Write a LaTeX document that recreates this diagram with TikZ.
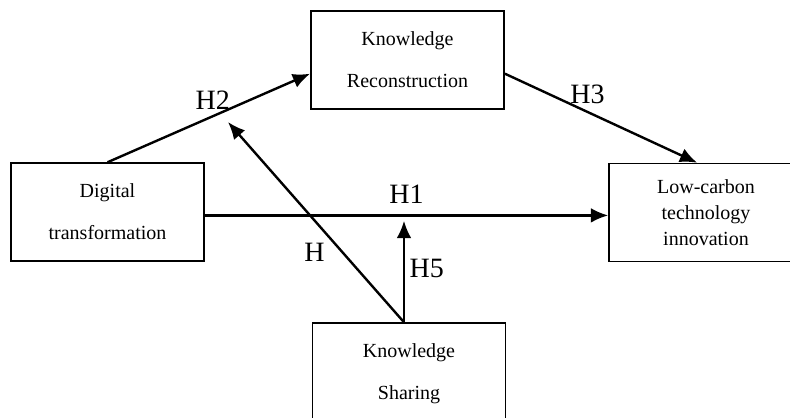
\documentclass[tikz,border=0pt]{standalone}
\usepackage{fontspec}
\setmainfont{Liberation Serif}
\usetikzlibrary{calc,arrows.meta}
\tikzset{>={Latex[width=11pt,length=13pt]}}

\begin{document}
\begin{tikzpicture}[x=0.75pt,y=-0.75pt,
    box/.style={draw,line width=1.1pt,minimum width=145pt,minimum height=73.5pt,inner sep=0pt,align=center,font=\fontsize{15}{31.5}\selectfont,execute at begin node=\rule{0pt}{16pt}},
    lbl/.style={font=\fontsize{21}{21}\selectfont,inner sep=0pt}]
    \useasboundingbox (0,0) rectangle (790,418);
    \clip (0,0) rectangle (790,418);
    \node[box] (digital) at (107.5,212) {Digital\\transformation};
    \node[box] (recon) at (407.5,60) {Knowledge\\Reconstruction};
    \node[box,minimum width=145.5pt,font=\fontsize{15}{19.5}\selectfont] (lowcarbon) at (706,212.5) {Low-carbon\\technology\\innovation};
    \node[box,minimum height=76.5pt] (sharing) at (409,374) {Knowledge\\Sharing};
    \coordinate (src) at ($(sharing.north)+(-5,0)$);
    \coordinate (tip) at (228,122);

    \path[->, line width=1.8pt]
    (digital.north) edge node[lbl, pos=0.52, yshift=12pt] {H2} (recon.188)
    (recon.-8)      edge node[lbl, pos=0.43, yshift=13pt] {H3} (lowcarbon.100)
    (digital.-2)    edge node[lbl, pos=0.5, yshift=16pt] {H1} (digital.-2 -| lowcarbon.west)
    (src)           edge node[lbl, pos=0.35, xshift=-21pt] {H} (tip)
    (src)           edge[shorten >=4pt] node[lbl, xshift=17pt] {H5} (src |- digital.-2);
\end{tikzpicture}
\end{document}
